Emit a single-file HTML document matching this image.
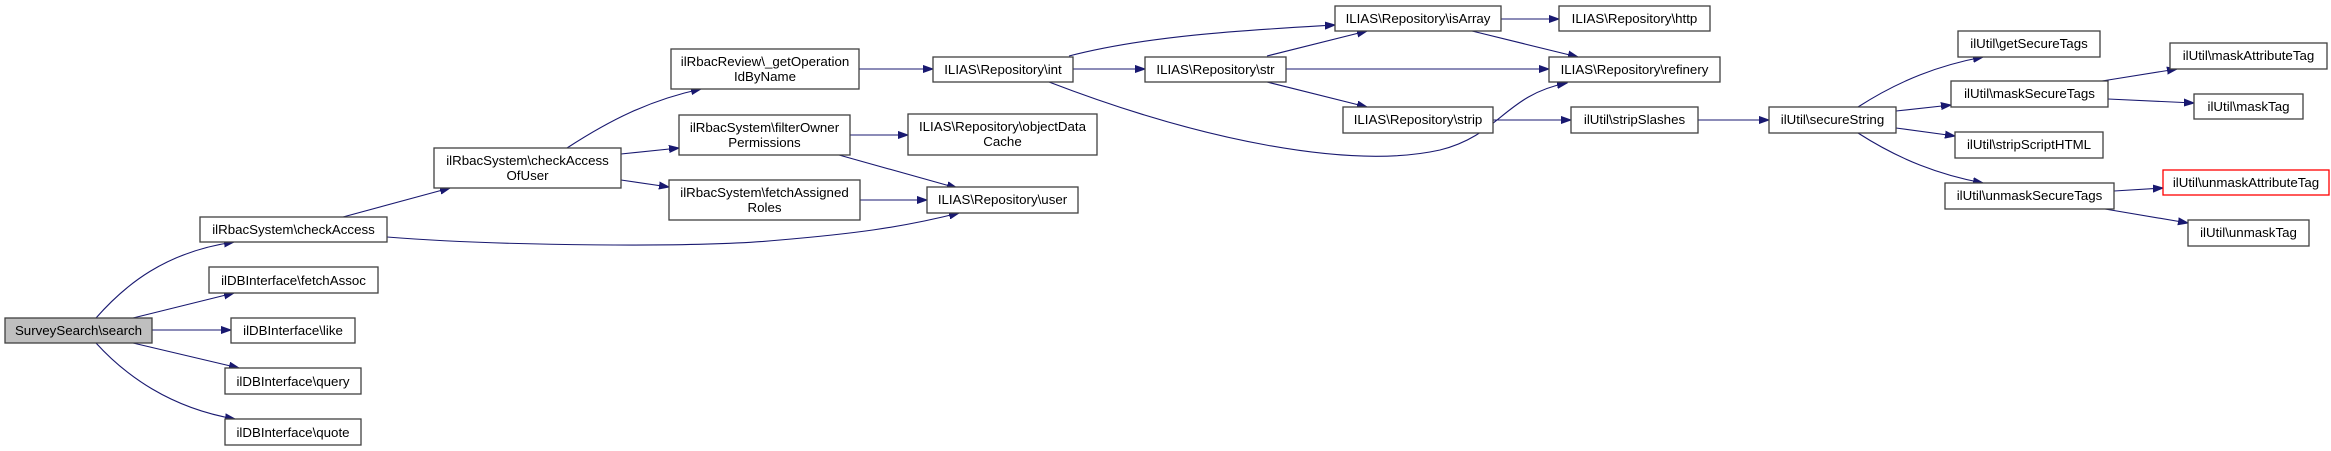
<!DOCTYPE html>
<html><head><meta charset="utf-8"><style>
html,body{margin:0;padding:0;background:#fff;}
svg{display:block;}
text{font-family:"Liberation Sans",Arial,sans-serif;font-size:13.3px;fill:#000;text-anchor:middle;}
rect{fill:#fff;stroke:#404040;stroke-width:1.3;}
path.e{fill:none;stroke:#191970;stroke-width:1.1;marker-end:url(#a);}
</style></head><body>
<svg width="2331" height="451" viewBox="0 0 2331 451" xmlns="http://www.w3.org/2000/svg">
<defs><marker id="a" markerUnits="userSpaceOnUse" markerWidth="11" markerHeight="8" refX="10" refY="4" orient="auto"><path d="M0,0.5 L10,4 L0,7.5 z" fill="#191970" stroke="#191970"/></marker></defs>
<!-- edges -->
<path class="e" d="M96,318 C125,285 165,252 234,242"/>
<path class="e" d="M133,318 L234,293"/>
<path class="e" d="M152,330 L231,330"/>
<path class="e" d="M133,343 L239,368"/>
<path class="e" d="M96,343 C125,375 170,408 235,419"/>
<path class="e" d="M343,217 L450,188"/>
<path class="e" d="M387,237 C500,246 700,248 780,240 C850,234 900,228 959,213"/>
<path class="e" d="M567,148 C610,120 650,100 701,89"/>
<path class="e" d="M621,154 L679,148"/>
<path class="e" d="M621,180 L669,187"/>
<path class="e" d="M859,69 L933,69"/>
<path class="e" d="M850,135 L908,135"/>
<path class="e" d="M839,155 L957,188"/>
<path class="e" d="M860,200 L927,200"/>
<path class="e" d="M1073,69 L1145,69"/>
<path class="e" d="M1069,56 C1150,35 1250,30 1335,25"/>
<path class="e" d="M1049,82 C1200,140 1350,170 1440,150 C1500,135 1505,95 1567,83"/>
<path class="e" d="M1267,56 L1367,31"/>
<path class="e" d="M1286,69 L1549,69"/>
<path class="e" d="M1267,82 L1367,107"/>
<path class="e" d="M1501,19 L1559,19"/>
<path class="e" d="M1472,31 L1578,57"/>
<path class="e" d="M1493,120 L1571,120"/>
<path class="e" d="M1698,120 L1769,120"/>
<path class="e" d="M1858,107 C1900,80 1940,65 1983,57"/>
<path class="e" d="M1896,111 L1951,105"/>
<path class="e" d="M1896,128 L1955,136"/>
<path class="e" d="M1858,133 C1900,160 1940,175 1983,183"/>
<path class="e" d="M2102,81 L2177,69"/>
<path class="e" d="M2108,99 L2194,103"/>
<path class="e" d="M2114,191 L2163,188"/>
<path class="e" d="M2105,209 L2188,223"/>
<!-- nodes -->
<rect x="5" y="318" width="147" height="25" style="fill:#bfbfbf"/><text x="78.5" y="335">SurveySearch\search</text>
<rect x="200" y="217" width="187" height="25"/><text x="293.5" y="234">ilRbacSystem\checkAccess</text>
<rect x="209" y="267" width="169" height="26"/><text x="293.5" y="285">ilDBInterface\fetchAssoc</text>
<rect x="231" y="318" width="124" height="25"/><text x="293" y="335">ilDBInterface\like</text>
<rect x="225" y="368" width="136" height="26"/><text x="293" y="386">ilDBInterface\query</text>
<rect x="225" y="419" width="136" height="26"/><text x="293" y="437">ilDBInterface\quote</text>
<rect x="434" y="148" width="187" height="40"/><text x="527.5" y="165">ilRbacSystem\checkAccess</text><text x="527.5" y="180">OfUser</text>
<rect x="671" y="49" width="188" height="40"/><text x="765" y="66">ilRbacReview\_getOperation</text><text x="765" y="81">IdByName</text>
<rect x="679" y="115" width="171" height="40"/><text x="764.5" y="132">ilRbacSystem\filterOwner</text><text x="764.5" y="147">Permissions</text>
<rect x="669" y="180" width="191" height="40"/><text x="764.5" y="197">ilRbacSystem\fetchAssigned</text><text x="764.5" y="212">Roles</text>
<rect x="933" y="57" width="140" height="25"/><text x="1003" y="74">ILIAS\Repository\int</text>
<rect x="1145" y="57" width="141" height="25"/><text x="1215.5" y="74">ILIAS\Repository\str</text>
<rect x="1335" y="6" width="166" height="25"/><text x="1418" y="23">ILIAS\Repository\isArray</text>
<rect x="1559" y="6" width="151" height="25"/><text x="1634.5" y="23">ILIAS\Repository\http</text>
<rect x="1549" y="57" width="171" height="25"/><text x="1634.5" y="74">ILIAS\Repository\refinery</text>
<rect x="1343" y="107" width="150" height="26"/><text x="1418" y="124">ILIAS\Repository\strip</text>
<rect x="908" y="114" width="189" height="41"/><text x="1002.5" y="131">ILIAS\Repository\objectData</text><text x="1002.5" y="146">Cache</text>
<rect x="927" y="187" width="151" height="26"/><text x="1002.5" y="204">ILIAS\Repository\user</text>
<rect x="1571" y="107" width="127" height="26"/><text x="1634.5" y="124">ilUtil\stripSlashes</text>
<rect x="1769" y="107" width="127" height="26"/><text x="1832.5" y="124">ilUtil\secureString</text>
<rect x="1958" y="31" width="142" height="26"/><text x="2029" y="48">ilUtil\getSecureTags</text>
<rect x="1951" y="81" width="157" height="26"/><text x="2029.5" y="98">ilUtil\maskSecureTags</text>
<rect x="1955" y="132" width="148" height="26"/><text x="2029" y="149">ilUtil\stripScriptHTML</text>
<rect x="1945" y="183" width="169" height="26"/><text x="2029.5" y="200">ilUtil\unmaskSecureTags</text>
<rect x="2170" y="43" width="157" height="26"/><text x="2248.5" y="60">ilUtil\maskAttributeTag</text>
<rect x="2194" y="94" width="109" height="25"/><text x="2248.5" y="111">ilUtil\maskTag</text>
<rect x="2163" y="170" width="166" height="25" style="stroke:#ff0000"/><text x="2246" y="187">ilUtil\unmaskAttributeTag</text>
<rect x="2188" y="220" width="121" height="26"/><text x="2248.5" y="237">ilUtil\unmaskTag</text>
</svg>
</body></html>
